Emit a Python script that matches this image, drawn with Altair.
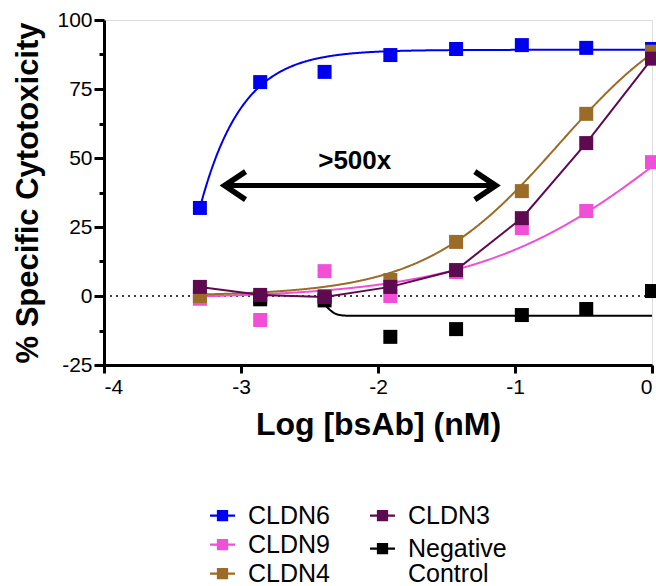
import altair as alt
import pandas as pd

# ---- data ----
log_conc = [-3.30, -2.86, -2.39, -1.91, -1.43, -0.95, -0.48, 0.0]
cldn6 = [31.9, 77.5, 81.2, 87.3, 89.5, 90.9, 89.9, 89.5]
cldn9 = [-1.0, -8.7, 9.0, 0.0, 8.7, 24.6, 30.8, 48.5]
cldn4 = [0.0, -0.5, 0.0, 5.8, 19.6, 38.0, 66.0, 88.5]
cldn3 = [3.3, 0.4, -0.4, 3.3, 9.4, 28.2, 55.4, 86.0]
neg_ctrl = [None, -1.2, -1.6, -14.8, -12.0, -6.9, -4.7, 1.8]

series_names = ["CLDN6", "CLDN9", "CLDN4", "CLDN3", "Negative Control"]
series_colors = ["#0000F0", "#F04FD8", "#9B6B28", "#5E0A50", "#000000"]

# fitted logistic curves (parameters)
fit_series = ["CLDN6", "CLDN9", "CLDN4", "Negative Control"]
fit_bottom = [-900.0, -1.0, 0.0, -1.0]
fit_top = [89.2, 110.0, 110.0, -7.2]
fit_logec50 = [-4.108, 0.2, -0.68, -2.37]
fit_hill = [1.5, 0.6, 0.88, 14.0]
fit_start = [-3.30, -3.30, -3.30, -2.39]

arrow_x = [-3.12, -1.14]
arrow_y = 40
arrow_label = ">500x"
arrow_label_x = -2.17
arrow_label_y = 49

x_ticks = [-4, -3, -2, -1, 0]
y_ticks = [-25 + 12.5 * i for i in range(11)]

FONT = "Liberation Sans"
color_of = dict(zip(series_names, series_colors))

rows = []
for name, vals in zip(series_names, [cldn6, cldn9, cldn4, cldn3, neg_ctrl]):
    for xv, yv in zip(log_conc, vals):
        if yv is not None:
            rows.append({"series": name, "x": xv, "y": yv})
pts = pd.DataFrame(rows)

group1 = ["CLDN6", "CLDN9", "CLDN4"]
group2 = ["CLDN3", "Negative Control"]
pts1 = pts[pts.series.isin(group1)]
pts2 = pd.concat([pts[pts.series == "Negative Control"], pts[pts.series == "CLDN3"]])

X_TITLE = "Log [bsAb] (nM)"
Y_TITLE = "% Specific Cytotoxicity"
xscale = alt.Scale(domain=[-4, 0], nice=False, zero=False)
yscale = alt.Scale(domain=[-25, 100], nice=False, zero=False)

xaxis = alt.Axis(values=x_ticks, labelExpr="'' + datum.value", grid=False,
                 tickSize=8, tickWidth=3, domainWidth=3, domainColor="black",
                 tickColor="black", labelFontSize=21, labelFont=FONT,
                 labelColor="black", labelPadding=3, titleFontSize=32,
                 titleFont=FONT, titleFontWeight="bold", titleColor="black",
                 titlePadding=12)
yaxis = alt.Axis(values=y_ticks,
                 labelExpr="datum.value % 25 == 0 ? '' + datum.value : ''",
                 grid=False,
                 tickSize={"condition": {"test": "datum.value % 25 == 0", "value": 10}, "value": 5},
                 tickWidth=3, domainWidth=3, domainColor="black",
                 tickColor="black", labelFontSize=21, labelFont=FONT,
                 labelColor="black", labelPadding=2, titleFontSize=31,
                 titleFont=FONT, titleFontWeight="bold", titleColor="black",
                 titlePadding=12)


def X(field="x:Q"):
    return alt.X(field, scale=xscale, axis=xaxis, title=X_TITLE)


def Y(field="y:Q"):
    return alt.Y(field, scale=yscale, axis=yaxis, title=Y_TITLE)


LEG_SYMBOL = "M-1,-0.09H1V0.09H-1Z M-0.45,-0.45H0.45V0.45H-0.45Z"


def legend(x, y, row_pad):
    return alt.Legend(title=None, orient="none", legendX=x, legendY=y,
                      symbolType=LEG_SYMBOL, symbolSize=625, symbolStrokeWidth=0,
                      symbolOpacity=1, labelFontSize=25, labelFont=FONT,
                      labelColor="black", labelOffset=13, rowPadding=row_pad,
                      labelExpr="datum.label == 'Negative Control' ? ['Negative', 'Control'] : datum.label")


def curve_chart(names):
    idx = [fit_series.index(n) for n in names]
    calcs = {}
    for i in idx:
        b, t, e, h = fit_bottom[i], fit_top[i], fit_logec50[i], fit_hill[i]
        calcs[fit_series[i]] = f"({b}) + (({t}) - ({b})) / (1 + pow(10, (({e}) - datum.x) * ({h})))"
    starts = " && ".join(
        f"(datum.series != '{fit_series[i]}' || datum.x >= {fit_start[i]} - 0.0001)" for i in idx)
    return (alt.Chart(alt.sequence(-3.30, 0.0026, 0.005, as_="x"))
            .transform_calculate(**calcs)
            .transform_fold([fit_series[i] for i in idx], as_=["series", "y"])
            .transform_filter(starts)
            .mark_line(strokeWidth=2, clip=True)
            .encode(x=X(), y=Y(),
                    stroke=alt.Stroke("series:N", legend=None,
                                      scale=alt.Scale(domain=names, range=[color_of[n] for n in names])),
                    detail="series:N"))


curves1 = curve_chart(group1)
points1 = alt.Chart(pts1).mark_square(size=196, filled=True, opacity=1).encode(
    x=X(), y=Y(),
    color=alt.Color("series:N", sort=group1,
                    scale=alt.Scale(domain=group1, range=[color_of[n] for n in group1]),
                    legend=legend(106, 483, 3)))

curves2 = curve_chart(["Negative Control"])
line3 = alt.Chart(pts[pts.series == "CLDN3"]).mark_line(strokeWidth=2).encode(
    x=X(), y=Y(),
    stroke=alt.Stroke("series:N", legend=None,
                      scale=alt.Scale(domain=["CLDN3"], range=[color_of["CLDN3"]])))
points2 = alt.Chart(pts2).mark_square(size=196, filled=True, opacity=1).encode(
    x=X(), y=Y(),
    color=alt.Color("series:N", sort=group2,
                    scale=alt.Scale(domain=group2, range=[color_of[n] for n in group2]),
                    legend=legend(266, 483, 7)))

# annotations
base = alt.Chart(pd.DataFrame({"k": [0]}))
zero_line = base.mark_rule(color="black", strokeWidth=1.5, strokeDash=[2, 4]).encode(
    y=alt.Y(datum=0, scale=yscale, axis=yaxis, title=Y_TITLE))
arrow_line = base.mark_rule(color="black", strokeWidth=5).encode(
    x=alt.X(datum=arrow_x[0], scale=xscale, axis=xaxis, title=X_TITLE),
    x2=alt.X2(datum=arrow_x[1]),
    y=alt.Y(datum=arrow_y, scale=yscale, axis=yaxis, title=Y_TITLE))
left_head = base.mark_point(shape="M1.5,-1L0,0L1.5,1", size=784, filled=False,
                            stroke="black", strokeWidth=5.5, opacity=1,
                            strokeJoin="miter").encode(
    x=alt.X(datum=arrow_x[0], scale=xscale, axis=xaxis, title=X_TITLE),
    y=alt.Y(datum=arrow_y, scale=yscale, axis=yaxis, title=Y_TITLE))
right_head = base.mark_point(shape="M-1.5,-1L0,0L-1.5,1", size=784, filled=False,
                             stroke="black", strokeWidth=5.5, opacity=1,
                             strokeJoin="miter").encode(
    x=alt.X(datum=arrow_x[1], scale=xscale, axis=xaxis, title=X_TITLE),
    y=alt.Y(datum=arrow_y, scale=yscale, axis=yaxis, title=Y_TITLE))
label = base.mark_text(text=arrow_label, font=FONT, fontSize=26, fontWeight="bold",
                       color="black", align="center", baseline="middle").encode(
    x=alt.X(datum=arrow_label_x, scale=xscale, axis=xaxis, title=X_TITLE),
    y=alt.Y(datum=arrow_label_y, scale=yscale, axis=yaxis, title=Y_TITLE))

chart = (alt.layer(zero_line, curves1, points1, curves2, line3, points2,
                   arrow_line, left_head, right_head, label)
         .resolve_scale(stroke="independent", color="independent")
         .properties(width=548, height=345,
                     autosize=alt.AutoSizeParams(type="none"),
                     padding={"left": 104, "top": 20, "right": 4, "bottom": 221},
                     background="white")
         .configure_view(stroke=None)
         .configure(style={"guide-label": {"lineHeight": 25}}))

chart.save("out.html", embed_options={"renderer": "svg", "actions": False})
